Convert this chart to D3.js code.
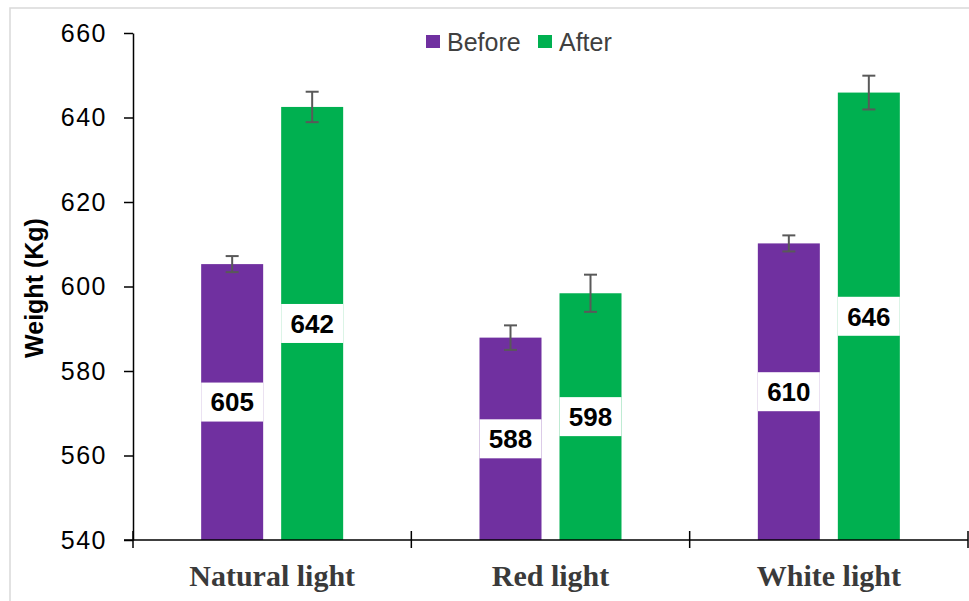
<!DOCTYPE html>
<html><head><meta charset="utf-8">
<script src="https://cdn.jsdelivr.net/npm/d3@7"></script>
<style>body{margin:0;background:#fff}svg{display:block}</style>
</head><body>
<svg id="chart" width="969" height="601"></svg>
<script>
const categories = ["Natural light", "Red light", "White light"];
const series = ["Before", "After"];
const before = [605.3, 587.9, 610.2];
const after = [642.5, 598.4, 645.9];
const beforeErr = [1.9, 2.9, 1.9];
const afterErr = [3.6, 4.4, 4.0];
const labelsBefore = ["605", "588", "610"];
const labelsAfter = ["642", "598", "646"];
const yTicks = [540, 560, 580, 600, 620, 640, 660];
const colors = {Before: "#7030A0", After: "#00B050"};

const svg = d3.select("#chart");
svg.append("rect").attr("x", 10).attr("y", 8).attr("width", 970).attr("height", 600)
  .attr("fill", "none").attr("stroke", "#d9d9d9").attr("stroke-width", 1.5);

const y = d3.scaleLinear().domain([540, 660]).range([540, 33]);
const x = d3.scaleBand().domain(categories).range([133, 968]).padding(0);
const bw = x.bandwidth();
const x1 = d3.scaleBand().domain(series).range([bw/2 - 71, bw/2 + 71]).paddingInner(0.225).paddingOuter(0);

const data = categories.map((c, i) => ({
  cat: c,
  vals: [
    {s: "Before", v: before[i], e: beforeErr[i], l: labelsBefore[i]},
    {s: "After", v: after[i], e: afterErr[i], l: labelsAfter[i]}
  ]
}));

const g = svg.append("g").selectAll("g").data(data).join("g")
  .attr("transform", d => `translate(${x(d.cat)},0)`);

g.selectAll("rect.bar").data(d => d.vals).join("rect").attr("class", "bar")
  .attr("x", d => x1(d.s)).attr("width", x1.bandwidth())
  .attr("y", d => y(d.v)).attr("height", d => y(540) - y(d.v))
  .attr("fill", d => colors[d.s]);

// error bars
const eb = g.selectAll("g.err").data(d => d.vals).join("g").attr("class", "err")
  .attr("stroke", "#595959").attr("stroke-width", 2);
eb.append("line").attr("x1", d => x1(d.s) + x1.bandwidth()/2).attr("x2", d => x1(d.s) + x1.bandwidth()/2)
  .attr("y1", d => y(d.v + d.e)).attr("y2", d => y(d.v - d.e));
eb.append("line").attr("x1", d => x1(d.s) + x1.bandwidth()/2 - 6.5).attr("x2", d => x1(d.s) + x1.bandwidth()/2 + 6.5)
  .attr("y1", d => y(d.v + d.e)).attr("y2", d => y(d.v + d.e));
eb.append("line").attr("x1", d => x1(d.s) + x1.bandwidth()/2 - 6.5).attr("x2", d => x1(d.s) + x1.bandwidth()/2 + 6.5)
  .attr("y1", d => y(d.v - d.e)).attr("y2", d => y(d.v - d.e));

// value labels
const lb = g.selectAll("g.lbl").data(d => d.vals).join("g").attr("class", "lbl")
  .attr("transform", d => `translate(${x1(d.s) + x1.bandwidth()/2},${(y(d.v) + y(540))/2})`);
lb.append("rect").attr("x", -x1.bandwidth()/2).attr("width", x1.bandwidth())
  .attr("y", -19.5).attr("height", 39).attr("fill", "#fff");
lb.append("text").attr("text-anchor", "middle").attr("dy", "0.36em")
  .attr("font-family", "Liberation Sans, Arial, sans-serif").attr("font-weight", "bold")
  .attr("font-size", 26).attr("fill", "#000").text(d => d.l);

// y axis
const yAxis = svg.append("g").attr("transform", "translate(133,0)")
  .call(d3.axisLeft(y).tickValues(yTicks).tickSize(9).tickPadding(17).tickSizeOuter(0));
yAxis.select(".domain").attr("stroke", "#000").attr("stroke-width", 1.5);
yAxis.selectAll(".tick line").attr("stroke", "#000").attr("stroke-width", 1.5);
yAxis.selectAll("text").attr("font-family", "Liberation Sans, Arial, sans-serif")
  .attr("font-size", 25).attr("fill", "#000").attr("letter-spacing", 1.5);

// x axis
const xAxis = svg.append("g").attr("transform", "translate(0,540)");
xAxis.append("line").attr("x1", 124).attr("x2", 968).attr("stroke", "#000").attr("stroke-width", 1.5);
const bounds = categories.map(c => x(c)).concat([x(categories[categories.length-1]) + bw]);
xAxis.selectAll("line.t").data(bounds).join("line").attr("class", "t")
  .attr("x1", d => d).attr("x2", d => d).attr("y1", -9).attr("y2", 8)
  .attr("stroke", "#000").attr("stroke-width", 1.5);
xAxis.selectAll("text").data(categories).join("text")
  .attr("x", d => x(d) + bw/2).attr("y", 46).attr("text-anchor", "middle")
  .attr("font-family", "Liberation Serif, Times New Roman, serif").attr("font-weight", "bold")
  .attr("font-size", 30).attr("fill", "#3a3a3a").text(d => d);

// y title
svg.append("text").attr("transform", "translate(43,288) rotate(-90)").attr("text-anchor", "middle")
  .attr("font-family", "Liberation Sans, Arial, sans-serif").attr("font-weight", "bold")
  .attr("font-size", 25).attr("fill", "#000").text("Weight (Kg)");

// legend
const legend = svg.append("g");
const legX = [426, 538];
series.forEach((s, i) => {
  legend.append("rect").attr("x", legX[i]).attr("y", 35).attr("width", 14).attr("height", 13).attr("fill", colors[s]);
  legend.append("text").attr("x", legX[i] + 21).attr("y", 50.5)
    .attr("font-family", "Liberation Sans, Arial, sans-serif").attr("font-size", 25)
    .attr("fill", "#404040").text(s);
});
</script>
</body></html>
